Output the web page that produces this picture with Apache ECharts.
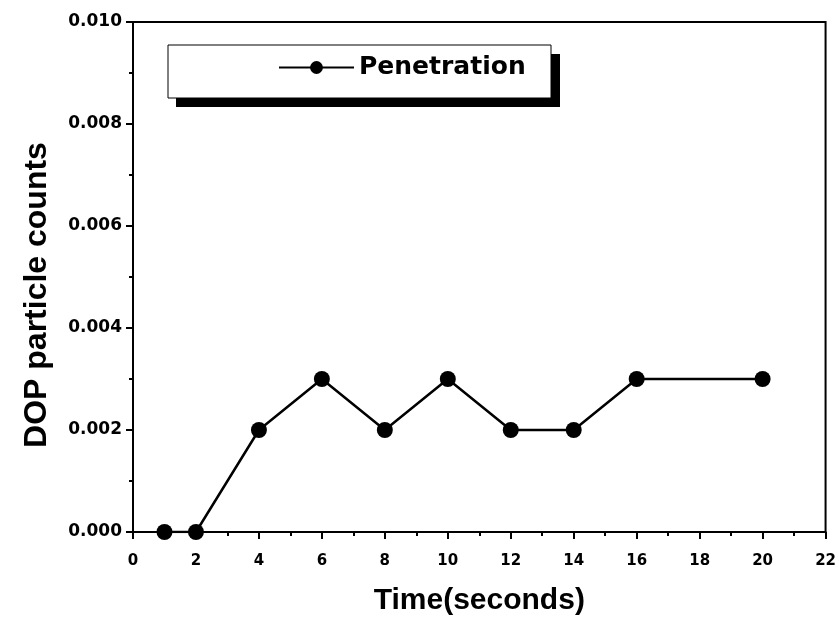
<!DOCTYPE html>
<html>
<head>
<meta charset="utf-8">
<script src="https://cdn.jsdelivr.net/npm/echarts@6/dist/echarts.min.js"></script>
<style>
	html, body { margin: 0; padding: 0; background: #fff; }
	#chart { width: 839px; height: 623px; }
</style>
</head>
<body>
<div id="chart"></div>
<script>

// data
var time_s = [1, 2, 4, 6, 8, 10, 12, 14, 16, 20];
var penetration = [0, 0, 0.002, 0.003, 0.002, 0.003, 0.002, 0.002, 0.003, 0.003];
var series_name = "Penetration";

var myChart = echarts.init(document.getElementById("chart"));

var points = [];
for (let i = 0; i < time_s.length; i++) {
	points.push([time_s[i], penetration[i]]);
}

var font = "Arial, 'Liberation Sans', sans-serif";
var wide = "'DejaVu Sans', sans-serif";

var option = {
	animation: false,
	backgroundColor: '#fff',
	grid: {
		left: 133,
		right: 11,
		top: 22,
		bottom: 91,
		show: true,
		borderColor: '#000',
		borderWidth: 2,
		backgroundColor: 'transparent'
	},
	// legend box with its drop shadow
	graphic: [
		{ type: 'rect', z: 1, shape: { x: 176, y: 54, width: 384, height: 53 }, style: { fill: '#000' } },
		{ type: 'rect', z: 2, shape: { x: 168, y: 45, width: 383, height: 53 }, style: { fill: '#fff', stroke: '#000', lineWidth: 1 } }
	],
	legend: {
		left: 278,
		top: 55,
		padding: 0,
		z: 10,
		itemWidth: 75,
		itemHeight: 16,
		itemGap: 18,
		textStyle: { fontFamily: wide, fontWeight: 'bold', fontSize: 25, color: '#000' },
		data: [series_name]
	},
	xAxis: {
		type: 'value',
		min: 0,
		max: 22,
		interval: 2,
		name: 'Time(seconds)',
		nameLocation: 'middle',
		nameGap: 54,
		nameMoveOverlap: false,
		nameTextStyle: { fontFamily: font, fontWeight: 'bold', fontSize: 30, color: '#000' },
		axisLine: { lineStyle: { color: '#000', width: 2 } },
		axisTick: { inside: false, length: 7, lineStyle: { color: '#000', width: 2 } },
		minorTick: { show: true, splitNumber: 2, length: 4, lineStyle: { color: '#000', width: 2 } },
		axisLabel: { margin: 22, fontFamily: wide, fontWeight: 'bold', fontSize: 15, color: '#000' },
		splitLine: { show: false }
	},
	yAxis: {
		type: 'value',
		min: 0,
		max: 0.010,
		interval: 0.002,
		name: 'DOP particle counts',
		nameLocation: 'middle',
		nameGap: 80,
		nameMoveOverlap: false,
		nameTextStyle: { fontFamily: font, fontWeight: 'bold', fontSize: 32, color: '#000', padding: [0, 36, 0, 0] },
		axisLine: { lineStyle: { color: '#000', width: 2 } },
		axisTick: { inside: false, length: 7, lineStyle: { color: '#000', width: 2 } },
		minorTick: { show: true, splitNumber: 2, length: 4, lineStyle: { color: '#000', width: 2 } },
		axisLabel: {
			margin: 11,
			fontFamily: wide, fontWeight: 'bold', fontSize: 17, color: '#000',
			formatter: function (v) { return v.toFixed(3); }
		},
		splitLine: { show: false }
	},
	series: [{
		name: series_name,
		type: 'line',
		data: points,
		symbol: 'circle',
		symbolSize: 16,
		itemStyle: { color: '#000' },
		lineStyle: { color: '#000', width: 2.5 }
	}]
};

myChart.setOption(option);
</script>
</body>
</html>
